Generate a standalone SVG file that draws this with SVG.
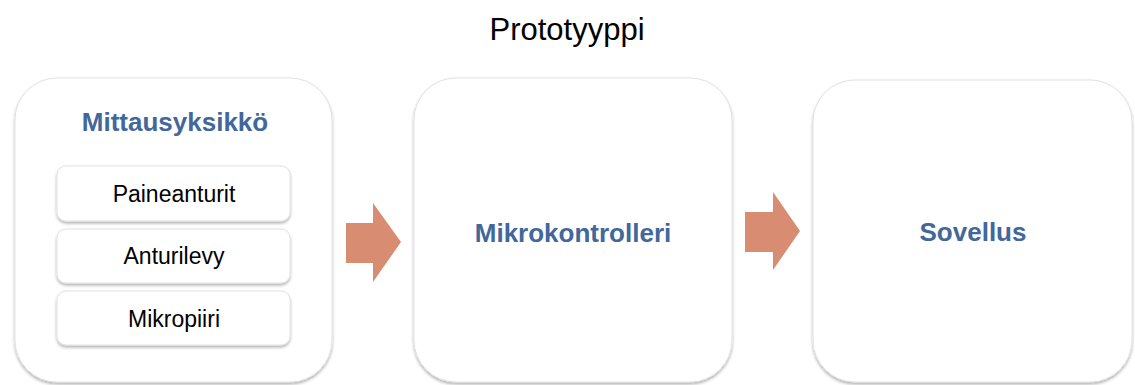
<svg xmlns="http://www.w3.org/2000/svg" width="1135" height="385" viewBox="0 0 1135 385">
<style>
.big{fill:#fff;stroke:#e2e2e2;stroke-width:1;filter:url(#sh)}
.small{fill:#fff;stroke:#e2e2e2;stroke-width:1;filter:url(#sh2)}
.hd{font-family:"Liberation Sans",Arial,sans-serif;font-weight:bold;font-size:26px;fill:#42679A;text-anchor:middle}
.tx{font-family:"Liberation Sans",Arial,sans-serif;font-size:23px;fill:#000;text-anchor:middle}
.ti{font-family:"Liberation Sans",Arial,sans-serif;font-size:31px;fill:#000;text-anchor:middle}
.arr{fill:#D88C72}
</style>
<defs>
<filter id="sh" x="-10%" y="-10%" width="120%" height="120%">
<feDropShadow dx="0" dy="2" stdDeviation="1.5" flood-color="#000" flood-opacity="0.3"/>
</filter>
<filter id="sh2" x="-10%" y="-20%" width="120%" height="140%">
<feDropShadow dx="0" dy="2" stdDeviation="1.5" flood-color="#000" flood-opacity="0.3"/>
</filter>
</defs>
<rect width="1135" height="385" fill="#fff"/>
<text class="ti" x="567" y="40">Prototyyppi</text>
<g id="mittausyksikko">
<rect class="big" x="15" y="78" width="317" height="304" rx="42"/>
<text class="hd" x="175" y="131">Mittausyksikkö</text>
</g>
<g id="paineanturit">
<rect class="small" x="57" y="166" width="233" height="55" rx="9"/>
<text class="tx" x="174" y="202">Paineanturit</text>
</g>
<g id="anturilevy">
<rect class="small" x="57" y="229" width="233" height="54" rx="9"/>
<text class="tx" x="174" y="264">Anturilevy</text>
</g>
<g id="mikropiiri">
<rect class="small" x="57" y="291" width="233" height="54" rx="9"/>
<text class="tx" x="174" y="327">Mikropiiri</text>
</g>
<g id="mikrokontrolleri">
<rect class="big" x="414" y="78" width="318" height="304" rx="42"/>
<text class="hd" x="573" y="242">Mikrokontrolleri</text>
</g>
<g id="sovellus">
<rect class="big" x="813" y="80" width="319" height="302" rx="42"/>
<text class="hd" x="973" y="241">Sovellus</text>
</g>
<g id="connectors">
<polygon class="arr" points="346,223 373,223 373,203 401,242 373,282 373,263 346,263"/>
<polygon class="arr" points="745,212 773,212 773,192 800,231 773,270 773,252 745,252"/>
</g>
</svg>
